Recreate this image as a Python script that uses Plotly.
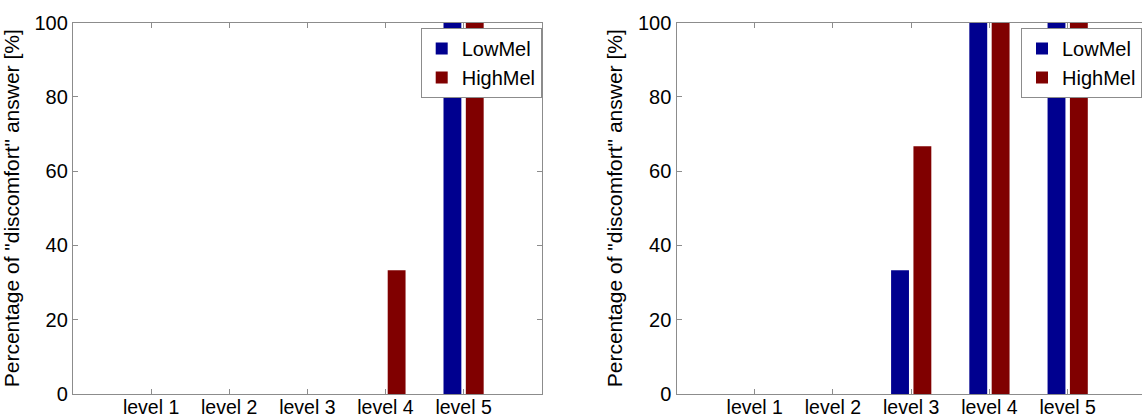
import plotly.graph_objects as go

categories = ["level 1", "level 2", "level 3", "level 4", "level 5"]
positions = [1, 2, 3, 4, 5]
series_names = ["LowMel", "HighMel"]

left_low = [0, 0, 0, 0, 100]
left_high = [0, 0, 0, 33.3, 100]
right_low = [0, 0, 33.3, 100, 100]
right_high = [0, 0, 66.7, 100, 100]

y_ticks = [0, 20, 40, 60, 80, 100]

colors = {"LowMel": "#00008F", "HighMel": "#800000"}
font_family = "Liberation Sans, Arial, sans-serif"
axis_color = "#8c8c8c"

fig = go.Figure()

panels = [
    ("x", "y", "legend", {"LowMel": left_low, "HighMel": left_high}),
    ("x2", "y2", "legend2", {"LowMel": right_low, "HighMel": right_high}),
]
for xa, ya, leg, data in panels:
    for name in series_names:
        fig.add_trace(go.Bar(
            x=positions, y=data[name], name=name,
            marker=dict(color=colors[name], line=dict(width=0)),
            xaxis=xa, yaxis=ya, legend=leg,
        ))

W, H = 1142, 418
x1_dom = [73 / W, 541.7 / W]
x2_dom = [676.5 / W, 1.0]
y_dom = [(H - 394) / H, (H - 22.5) / H]

common_x = dict(
    tickmode="array", tickvals=positions, ticktext=categories,
    ticks="inside", ticklen=5, tickcolor=axis_color,
    showline=True, linecolor=axis_color, linewidth=1.3,
    showgrid=False, zeroline=False, automargin=False,
    ticklabelstandoff=-5,
    tickfont=dict(family=font_family, size=19.5, color="#000"),
)
common_y = dict(
    range=[0, 100], tickvals=y_ticks,
    ticks="inside", ticklen=5, tickcolor=axis_color,
    showline=True, linecolor=axis_color, linewidth=1.3,
    showgrid=False, zeroline=False, automargin=False,
    tickfont=dict(family=font_family, size=20, color="#000"),
    title=dict(text='Percentage of "discomfort" answer [%]',
               font=dict(family=font_family, size=21, color="#000"), standoff=9),
)

legend_common = dict(
    xanchor="right", yanchor="top",
    bgcolor="white", bordercolor="#8c8c8c", borderwidth=1,
    font=dict(family=font_family, size=20, color="#000"),
    itemwidth=30, tracegroupgap=0,
)

fig.update_layout(
    template="none",
    width=W, height=H,
    margin=dict(l=0, r=0, t=0, b=0, autoexpand=False),
    plot_bgcolor="white", paper_bgcolor="white",
    barmode="group", bargap=0.4286, bargroupgap=0.2,
    xaxis=dict(domain=x1_dom, range=[0, 6], anchor="y", mirror="ticks", **common_x),
    yaxis=dict(domain=y_dom, anchor="x", mirror="ticks", **common_y),
    xaxis2=dict(domain=x2_dom, range=[0, 5.95], anchor="y2", mirror="ticks", **common_x),
    yaxis2=dict(domain=y_dom, anchor="x2", mirror=False, **common_y),
    legend=dict(x=x1_dom[1], y=(H - 28) / H, **legend_common),
    legend2=dict(x=x2_dom[1], y=(H - 28) / H, **legend_common),
)

fig.write_html(
    "out.html",
    config={"displayModeBar": False},
    post_script="document.body.style.margin='0';document.body.style.overflow='hidden';",
)
